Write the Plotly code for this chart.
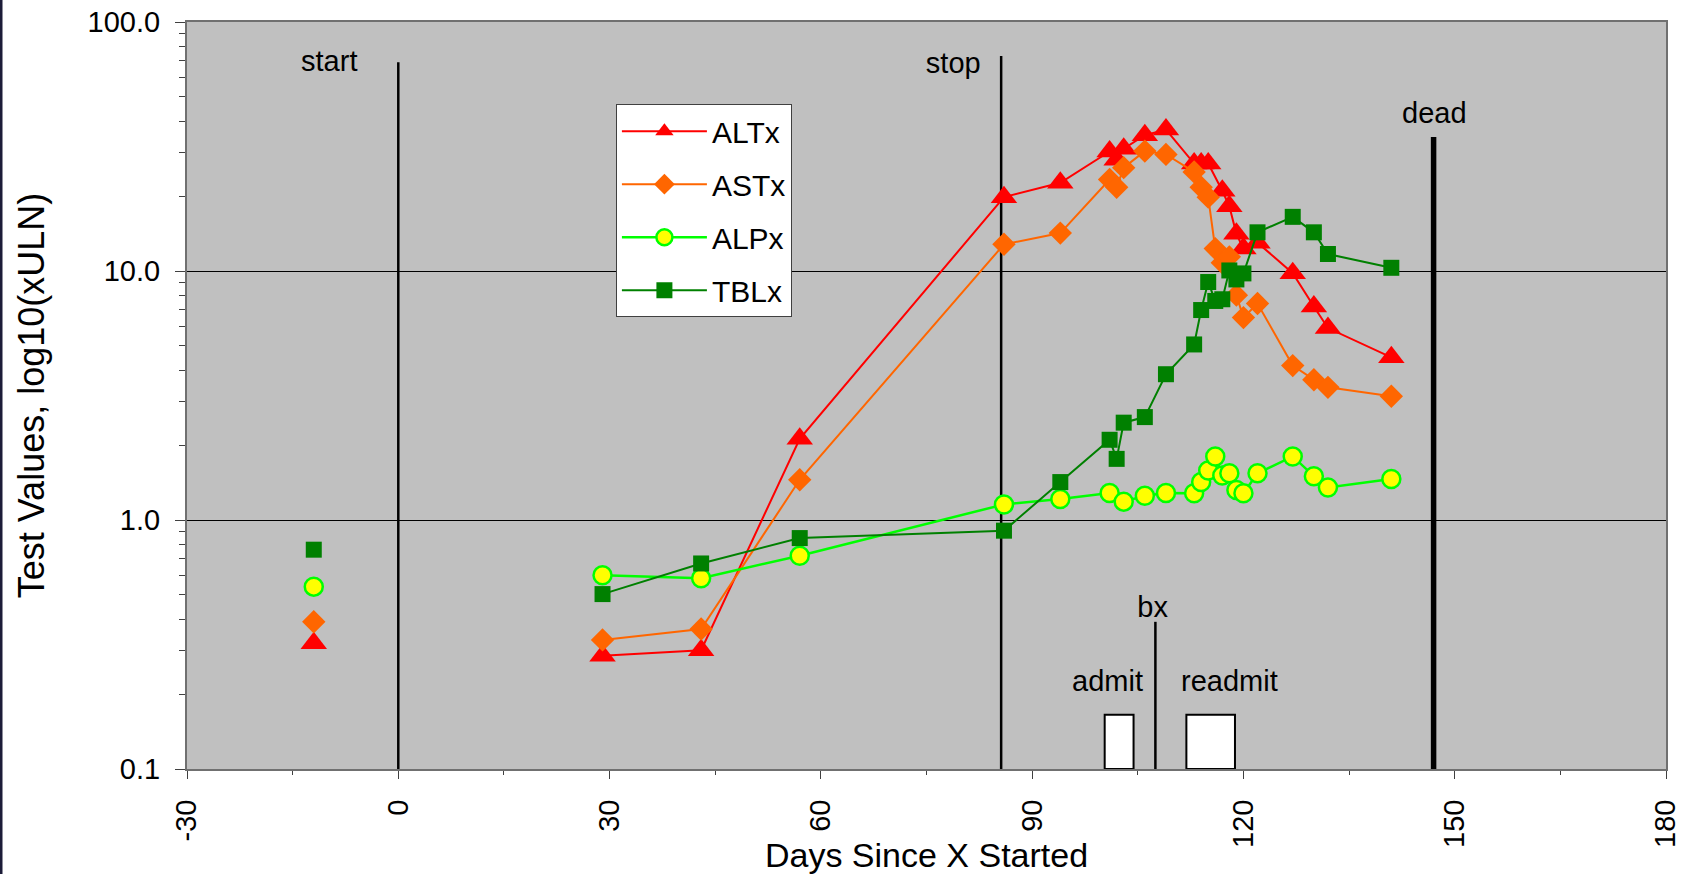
import plotly.graph_objects as go

# ---------------- data ----------------
series_names = ["ALTx", "ASTx", "ALPx", "TBLx"]

alt_days = [29, 43, 57, 86, 94, 101, 102, 103, 106, 109, 113, 114, 115, 117, 118, 119, 120, 122, 127, 130, 132, 141]
alt_vals = [0.285, 0.30, 2.12, 19.8, 22.6, 30.2, 28.0, 31.0, 35.1, 37.0, 27.0, 27.0, 27.0, 21.0, 18.2, 14.1, 12.3, 13.0, 9.8, 7.2, 5.9, 4.5]

ast_days = [29, 43, 57, 86, 94, 101, 102, 103, 106, 109, 113, 114, 115, 116, 117, 118, 119, 120, 122, 127, 130, 132, 141]
ast_vals = [0.33, 0.365, 1.45, 12.8, 14.2, 23.3, 21.7, 26.0, 30.3, 29.4, 25.0, 21.7, 19.8, 12.3, 10.8, 11.4, 8.0, 6.5, 7.4, 4.17, 3.66, 3.41, 3.14]

alp_days = [29, 43, 57, 86, 94, 101, 103, 106, 109, 113, 114, 115, 116, 117, 118, 119, 120, 122, 127, 130, 132, 141]
alp_vals = [0.60, 0.584, 0.719, 1.155, 1.215, 1.284, 1.185, 1.252, 1.284, 1.28, 1.42, 1.58, 1.80, 1.51, 1.54, 1.32, 1.28, 1.54, 1.80, 1.50, 1.35, 1.46]

tbl_days = [29, 43, 57, 86, 94, 101, 102, 103, 106, 109, 113, 114, 115, 116, 117, 118, 119, 120, 122, 127, 130, 132, 141]
tbl_vals = [0.504, 0.669, 0.846, 0.906, 1.42, 2.10, 1.76, 2.46, 2.59, 3.85, 5.07, 6.97, 9.03, 7.58, 7.70, 10.05, 9.25, 9.78, 14.3, 16.5, 14.3, 11.7, 10.3]

# baseline (pre-treatment) values
pre_day = [-12]
pre_vals = [0.32, 0.39, 0.54, 0.76]   # ALT, AST, ALP, TBL

# events (vertical lines)
event_names = ["start", "stop", "bx", "dead"]
event_days = [0, 85.6, 107.5, 147]
event_tops = [69, 73, 0.39, 34.5]

# hospital stays (boxes)
stay_names = ["admit", "readmit"]
stay_start = [100.3, 111.9]
stay_end = [104.4, 118.8]
stay_top = 0.165

x_ticks = [-30, 0, 30, 60, 90, 120, 150, 180]
x_ticktext = ["-30", "0", "30", "60", "90", "120", "150", "180"]
y_ticks = [0.1, 1, 10, 100]
y_ticktext = ["0.1", "1.0", "10.0", "100.0"]

# ---------------- styles ----------------
FONT = "Liberation Sans, Arial, sans-serif"
styles = [
    dict(color="#FF0000", symbol="triangle-up", size=23, mline=None),
    dict(color="#FF6600", symbol="diamond", size=18, mline=None),
    dict(color="#00FF00", symbol="circle", size=18, mline="#00FF00", fill="#FFFF00"),
    dict(color="#008000", symbol="square", size=16, mline=None),
]
line_widths = [2, 2, 2.5, 2]
event_widths = [2.5, 2.5, 2.5, 5.5]
label_pos = {  # (day, value) of text labels
    "start": (-9.8, 68), "stop": (78.8, 67), "bx": (107.1, 0.435), "dead": (147.1, 42),
    "admit": (100.7, 0.22), "readmit": (118.0, 0.22),
}

fig = go.Figure()

all_days = [alt_days, ast_days, alp_days, tbl_days]
all_vals = [alt_vals, ast_vals, alp_vals, tbl_vals]

# event lines (drawn first, under data)
for name, d, top, w in zip(event_names, event_days, event_tops, event_widths):
    fig.add_trace(go.Scatter(x=[d, d], y=[0.1, top], mode="lines",
                             line=dict(color="black", width=w),
                             showlegend=False, hoverinfo="skip"))

# stay boxes
for name, s, e in zip(stay_names, stay_start, stay_end):
    fig.add_trace(go.Scatter(x=[s, e, e, s, s], y=[0.1, 0.1, stay_top, stay_top, 0.1],
                             mode="lines", fill="toself", fillcolor="white",
                             line=dict(color="black", width=2),
                             showlegend=False, hoverinfo="skip"))

# data series
for i, name in enumerate(series_names):
    st = styles[i]
    marker = dict(symbol=st["symbol"], size=st["size"],
                  color=st.get("fill", st["color"]))
    if st["mline"]:
        marker["line"] = dict(color=st["mline"], width=2.5)
    else:
        marker["line"] = dict(width=0)
    fig.add_trace(go.Scatter(x=all_days[i], y=all_vals[i], mode="lines+markers",
                             name=name, legendgroup=name,
                             line=dict(color=st["color"], width=line_widths[i]),
                             marker=marker))
    fig.add_trace(go.Scatter(x=pre_day, y=[pre_vals[i]], mode="markers",
                             name=name, legendgroup=name, showlegend=False,
                             marker=marker))

# text labels
for name, (d, v) in label_pos.items():
    fig.add_trace(go.Scatter(x=[d], y=[v], mode="text", text=[name],
                             textposition="middle center",
                             textfont=dict(size=29, color="black", family=FONT),
                             showlegend=False, hoverinfo="skip"))

# left border of picture
fig.add_shape(type="line", xref="paper", yref="paper",
              x0=(1 - 187) / 1479, x1=(1 - 187) / 1479, y0=-0.2, y1=1.1,
              line=dict(color="#1c1c38", width=3))

fig.update_layout(
    width=1689, height=874,
    margin=dict(l=187, r=23, t=22, b=105),
    paper_bgcolor="white",
    plot_bgcolor="#C0C0C0",
    font=dict(family=FONT, color="black", size=29),
    showlegend=True,
    legend=dict(x=0.290, y=0.890, xanchor="left", yanchor="top",
                bgcolor="white", bordercolor="#404040", borderwidth=1,
                font=dict(size=30, family=FONT, color="black"),
                traceorder="grouped", tracegroupgap=11, itemwidth=85),
)

fig.update_xaxes(
    range=[-30, 180], tickvals=x_ticks, ticktext=x_ticktext, tickangle=-90,
    ticks="outside", ticklen=8, tickwidth=1, tickcolor="#404040",
    ticklabelstandoff=9, automargin=False,
    showgrid=False, zeroline=False,
    showline=True, linecolor="#707070", linewidth=2, mirror=True,
    tickfont=dict(size=29, family=FONT),
    minor=dict(ticks="outside", ticklen=4, dtick=15, tick0=-30, tickcolor="#404040", showgrid=False),
    title=dict(text="Days Since X Started", font=dict(size=34, family=FONT), standoff=4),
)
fig.update_yaxes(
    type="log", range=[-1, 2], tickvals=y_ticks, ticktext=y_ticktext,
    ticks="outside", ticklen=10, tickwidth=1, tickcolor="#404040",
    ticklabelstandoff=9, automargin=False,
    showgrid=True, gridcolor="black", gridwidth=1, zeroline=False,
    showline=True, linecolor="#707070", linewidth=2, mirror=True,
    tickfont=dict(size=29, family=FONT),
    minor=dict(ticks="outside", ticklen=6, tickcolor="#404040", showgrid=False,
               tickvals=[0.2, 0.3, 0.4, 0.5, 0.6, 0.7, 0.8, 0.9,
                         2, 3, 4, 5, 6, 7, 8, 9, 20, 30, 40, 50, 60, 70, 80, 90]),
    title=dict(text="Test Values, log10(xULN)", font=dict(size=36, family=FONT), standoff=32),
)

fig.write_html("out.html", config={"displayModeBar": False},
               post_script="document.body.style.margin='0';document.body.style.overflow='hidden';")
